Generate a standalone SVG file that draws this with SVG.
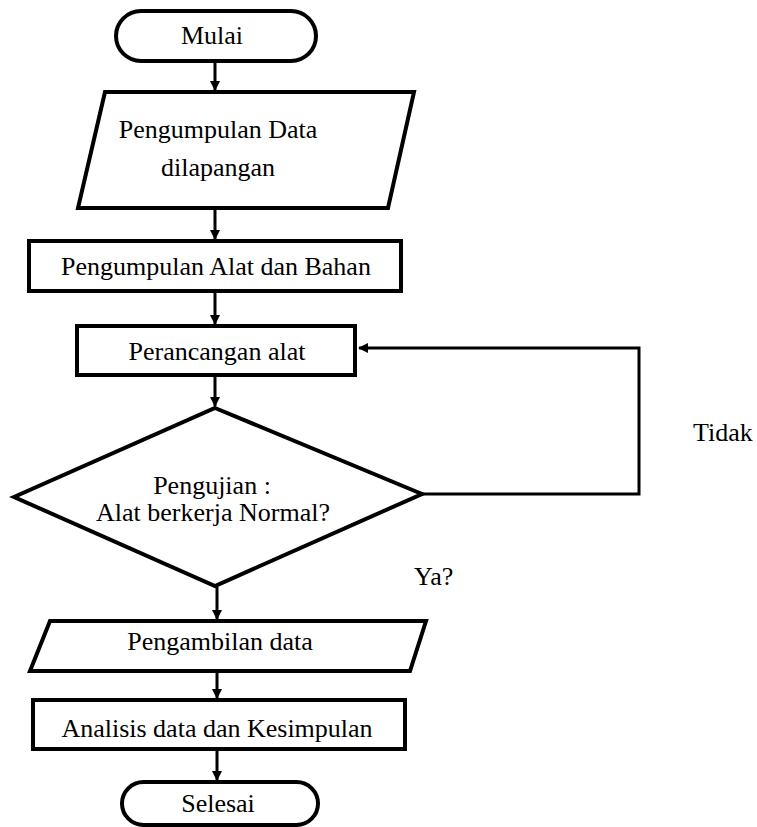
<svg xmlns="http://www.w3.org/2000/svg" width="757" height="827" viewBox="0 0 757 827">
<style>
.s{fill:#fff;stroke:#000;stroke-width:4;stroke-linejoin:miter}
.t{font-family:"Liberation Serif","Times New Roman",serif;font-size:26px;fill:#000;text-anchor:middle}
.l{font-family:"Liberation Serif","Times New Roman",serif;font-size:26px;fill:#000}
.c{fill:none;stroke:#000;stroke-width:3}
</style>
<defs>
<marker id="a" markerWidth="10" markerHeight="10" refX="9" refY="5" orient="auto" markerUnits="userSpaceOnUse">
<path d="M0,0 L10,5 L0,10 Z" fill="#000"/>
</marker>
</defs>
<rect width="757" height="827" fill="#fff"/>
<g id="connectors">
<line class="c" x1="215" y1="62" x2="215" y2="90" marker-end="url(#a)"/>
<line class="c" x1="215" y1="208" x2="215" y2="239" marker-end="url(#a)"/>
<line class="c" x1="215" y1="291" x2="215" y2="324" marker-end="url(#a)"/>
<line class="c" x1="215" y1="375" x2="215" y2="406" marker-end="url(#a)"/>
<line class="c" x1="217" y1="587" x2="217" y2="619" marker-end="url(#a)"/>
<line class="c" x1="217" y1="671" x2="217" y2="698" marker-end="url(#a)"/>
<line class="c" x1="217" y1="749" x2="217" y2="780" marker-end="url(#a)"/>
<polyline class="c" points="422,494 639,494 639,348 359,348" marker-end="url(#a)"/>
<text class="l" x="693" y="441">Tidak</text>
<text class="l" x="414" y="585">Ya?</text>
</g>
<g id="mulai">
<rect class="s" x="116" y="11" width="200" height="50" rx="25"/>
<text class="t" x="212" y="44">Mulai</text>
</g>
<g id="pengumpulan-data">
<polygon class="s" points="105,92 414,92 388,208 78,208"/>
<text class="t" x="218" y="138">Pengumpulan Data</text>
<text class="t" x="218" y="176">dilapangan</text>
</g>
<g id="pengumpulan-alat">
<rect class="s" x="29" y="241" width="372" height="50"/>
<text class="t" x="216" y="275">Pengumpulan Alat dan Bahan</text>
</g>
<g id="perancangan">
<rect class="s" x="77" y="326" width="278" height="49"/>
<text class="t" x="217" y="360">Perancangan alat</text>
</g>
<g id="pengujian">
<polygon class="s" points="215,408 422,494 215,586 14,497"/>
<text class="t" x="212" y="494">Pengujian :</text>
<text class="t" x="213" y="521">Alat berkerja Normal?</text>
</g>
<g id="pengambilan">
<polygon class="s" points="50,621 426,621 410,671 30,671"/>
<text class="t" x="220" y="650">Pengambilan data</text>
</g>
<g id="analisis">
<rect class="s" x="33" y="700" width="372" height="49"/>
<text class="t" x="217" y="737">Analisis data dan Kesimpulan</text>
</g>
<g id="selesai">
<rect class="s" x="122" y="782" width="196" height="43" rx="21.5"/>
<text class="t" x="218" y="812">Selesai</text>
</g>
</svg>
